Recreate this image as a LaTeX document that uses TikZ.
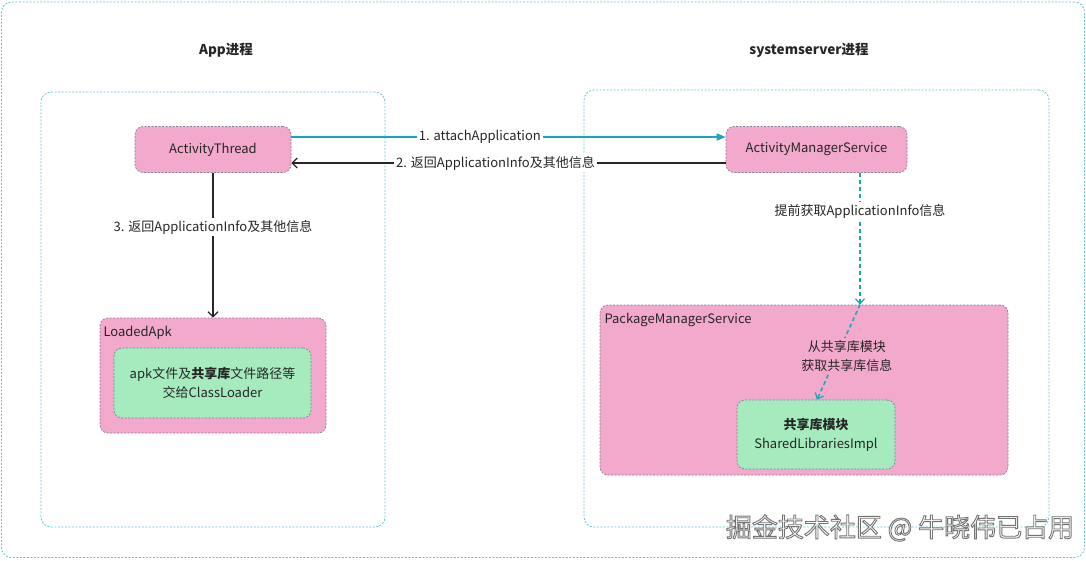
\documentclass[tikz,border=0pt]{standalone}
\usepackage{fontspec}
\setmainfont{Noto Sans CJK SC}
\usetikzlibrary{arrows.meta}
\definecolor{pinkf}{HTML}{F3A9CB}
\definecolor{greenf}{HTML}{A5EBBE}
\definecolor{cyanl}{HTML}{14A8B8}
\definecolor{cyanb}{HTML}{62C6D1}
\definecolor{boxb}{HTML}{8080A0}
\definecolor{txt}{HTML}{262626}
\definecolor{wmgray}{HTML}{8A8A8A}
\begin{document}
\begin{tikzpicture}[x=1pt,y=-1pt,
  font=\fontsize{13}{16}\selectfont, text=txt,
  container/.style={draw=cyanb, dash pattern=on 2pt off 1.5pt, rounded corners=10pt, line width=0.8pt, inner sep=0pt},
  pinkbox/.style={draw=boxb, fill=pinkf, dash pattern=on 2pt off 1.5pt, rounded corners=8pt, line width=0.7pt, inner sep=0pt},
  greenbox/.style={draw=boxb, fill=greenf, dash pattern=on 2pt off 1.5pt, rounded corners=8pt, line width=0.7pt, inner sep=0pt, align=center},
  title/.style={font=\fontsize{13.5}{16}\selectfont\bfseries},
  cyanarrow/.style={draw=cyanl, line width=1.6pt, -{Triangle[length=9pt,width=7pt]}},
  blackarrow/.style={draw=txt, line width=1.5pt, -{Straight Barb[length=5pt,width=10pt,line width=1.3pt]}},
  dasharrow/.style={draw=cyanl, line width=1.5pt, dash pattern=on 4pt off 3pt, -{Straight Barb[length=5pt,width=9pt,line width=1.2pt]}},
  lbl/.style={fill=white, inner sep=2pt},
  wm/.style={font=\fontsize{26}{30}\selectfont},
]
\useasboundingbox (0,0) rectangle (1086,560);
% outer frame and containers
\node[container, minimum width=1083pt, minimum height=555.5pt] (outer) at (543,279.75) {};
\node[container, minimum width=344pt, minimum height=435pt] (appc) at (213,309.5) {};
\node[container, minimum width=465pt, minimum height=437pt] (sysc) at (816.5,308.5) {};
% titles
\node[title] (apptitle) at (226,50) {App进程};
\node[title] (systitle) at (809,50) {systemserver进程};
% boxes
\node[pinkbox, minimum width=156pt, minimum height=46pt] (at) at (213,149.5) {ActivityThread};
\node[pinkbox, minimum width=181pt, minimum height=46pt] (ams) at (816.5,149.5) {ActivityManagerService};
\node[pinkbox, minimum width=226pt, minimum height=115pt] (lapk) at (213,375.5) {};
\node[anchor=west] (lapkl) at (100,333) {LoadedApk};
\node[greenbox, minimum width=197pt, minimum height=70pt] (g1) at (212.5,383)
  {apk文件及\textbf{共享库}文件路径等\\[3pt]交给ClassLoader};
\node[pinkbox, minimum width=408pt, minimum height=170pt] (pms) at (804,390) {};
\node[anchor=west] (pmsl) at (601,320) {PackageManagerService};
\node[greenbox, minimum width=158pt, minimum height=69pt] (g2) at (816,434.5)
  {\textbf{共享库模块}\\[3pt]SharedLibrariesImpl};
% connectors
\draw[cyanarrow] ([yshift=12.5pt]at.east) -- node[lbl, pos=0.434] (l1) {1. attachApplication} ([yshift=12.5pt]ams.west);
\draw[blackarrow] ([yshift=-13.5pt]ams.west) -- node[lbl, pos=0.53] (l2) {2. 返回ApplicationInfo及其他信息} ([yshift=-13.5pt]at.east);
\draw[blackarrow] (at.south) -- node[lbl, pos=0.377] (l3) {3. 返回ApplicationInfo及其他信息} (lapk.north);
\draw[dasharrow] ([xshift=43.5pt]ams.south) -- node[lbl, pos=0.29] (l4) {提前获取ApplicationInfo信息} ([xshift=56pt]pms.north);
\draw[dasharrow] ([xshift=56pt]pms.north) -- node[fill=pinkf, inner sep=2pt, align=center, pos=0.54, xshift=10pt] (l5) {从共享库模块\\[3pt]获取共享库信息} ([xshift=1pt]g2.north);
% watermark: white letters with a grey outline (fill+stroke text render mode)
\node[wm, text=white] (wm) at (900,528)
  {\special{pdf:literal 0.45 G 0.9 w 2 Tr}掘金技术社区 @ 牛晓伟已占用\special{pdf:literal 0 Tr}};
\end{tikzpicture}
\end{document}
